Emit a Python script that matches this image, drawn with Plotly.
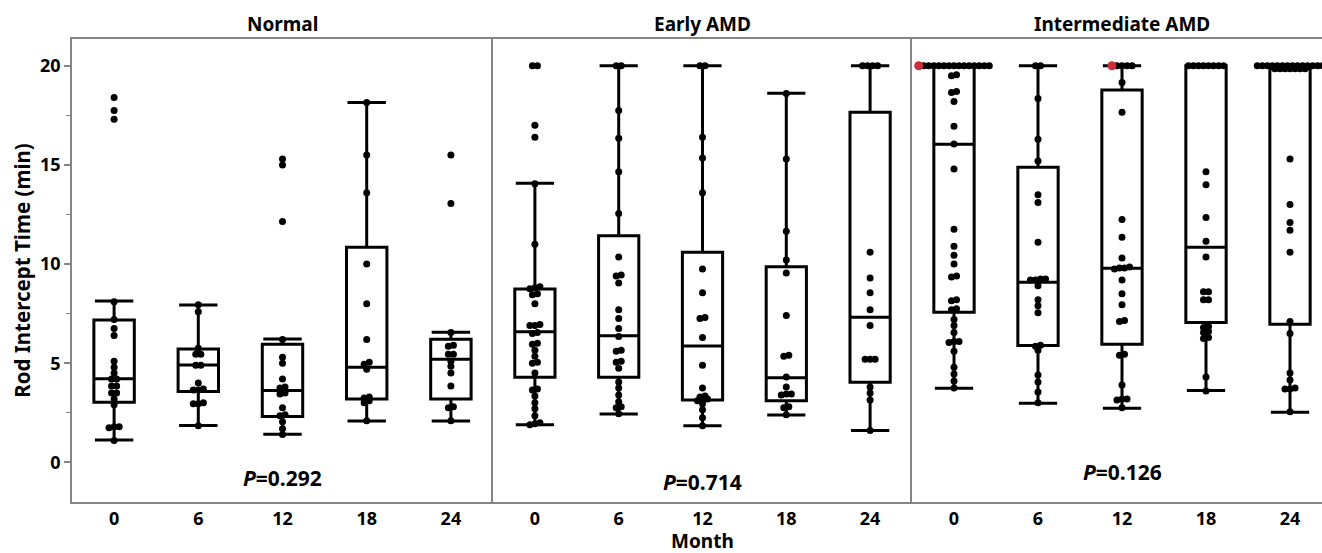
import plotly.graph_objects as go
from plotly.subplots import make_subplots

# ---------------- data ----------------
groups = ["Normal", "Early AMD", "Intermediate AMD"]
month_labels = ["0", "6", "12", "18", "24"]
p_values = ["0.292", "0.714", "0.126"]
p_label_y = [-0.78, -0.98, -0.48]

# individual values (min); per group, per month
normal_0 = [18.4, 17.75, 17.3, 8.1, 7.2, 6.75, 6.4, 5.1, 4.8, 4.5, 4.2, 4.2, 3.85, 3.85,
            3.5, 3.5, 3.2, 2.9, 1.8, 1.8, 1.75, 1.1]
normal_6 = [7.95, 7.6, 5.75, 5.45, 5.45, 4.9, 4.9, 4.0, 3.7, 3.65, 3.65, 3.0, 2.95, 2.95, 1.85]
normal_12 = [15.3, 15.0, 12.15, 6.2, 5.3, 5.0, 4.2, 3.8, 3.75, 3.5, 3.45, 2.75, 2.4, 2.35,
             2.05, 1.7, 1.4]
normal_18 = [18.15, 15.5, 13.6, 10.0, 8.0, 6.2, 5.05, 4.95, 4.7, 3.3, 3.25, 3.1, 3.0, 2.1]
normal_24 = [15.5, 13.05, 6.55, 5.9, 5.85, 5.45, 5.45, 5.1, 4.85, 4.5, 3.85, 2.8, 2.75, 2.1]

early_0 = [20, 20, 17.0, 16.4, 14.05, 11.0, 8.85, 8.8, 8.75, 8.5, 8.45, 8.0, 6.95, 6.9, 6.9,
           6.55, 6.5, 6.0, 5.95, 5.65, 5.35, 5.05, 5.0, 4.5, 3.7, 3.65, 3.35, 3.0, 2.7, 2.35,
           2.0, 1.95, 1.9]
early_6 = [20, 20, 17.75, 16.35, 14.65, 12.55, 10.35, 9.45, 9.4, 9.05, 7.7, 7.25, 6.75, 6.35,
           5.65, 5.6, 5.1, 5.05, 4.75, 4.05, 3.75, 3.4, 3.05, 2.8, 2.75, 2.45]
early_12 = [20, 20, 16.4, 15.35, 13.6, 9.75, 8.55, 7.3, 7.25, 6.3, 4.9, 3.75, 3.35, 3.3, 3.2,
            3.15, 3.1, 2.95, 2.65, 2.25, 1.85]
early_18 = [18.6, 15.3, 11.65, 10.2, 9.55, 7.4, 5.4, 5.35, 4.3, 3.8, 3.45, 3.45, 3.4, 2.8,
            2.75, 2.4]
early_24 = [20, 20, 20, 20, 10.6, 9.3, 8.55, 7.7, 6.9, 5.2, 5.2, 5.2, 3.8, 3.5, 3.15, 1.6]

inter_0 = [20] * 14 + [19.55, 19.5, 18.7, 18.65, 18.2, 16.95, 16.05, 14.8, 11.75, 10.9, 10.45,
                       10.0, 9.4, 9.35, 8.2, 8.15, 7.75, 7.7, 7.2, 6.9, 6.55, 6.1, 6.1, 6.05,
                       5.6, 4.8, 4.45, 4.1, 3.75]
inter_6 = [20, 20, 18.35, 16.3, 15.2, 13.5, 13.1, 11.1, 9.25, 9.25, 9.2, 9.2, 8.9, 8.2, 7.9,
           7.55, 5.9, 5.85, 5.65, 4.4, 4.05, 3.55, 3.0]
inter_12 = [20] * 4 + [19.15, 17.65, 12.25, 11.35, 10.3, 9.85, 9.8, 9.8, 9.75, 9.2, 8.5, 7.95,
                       7.15, 7.1, 5.45, 5.4, 3.9, 3.2, 3.2, 3.15, 2.75]
inter_18 = [20] * 8 + [14.65, 14.0, 12.35, 11.15, 10.35, 8.6, 8.6, 8.2, 8.2, 6.85, 6.8, 6.6,
                       6.55, 6.3, 6.25, 4.3, 3.6]
inter_24 = [20] * 14 + [19.85] * 7 + [15.3, 13.0, 12.1, 11.7, 10.6, 7.1, 6.5, 4.5, 4.15, 3.75,
                                      3.7, 3.7, 2.55]

# highlighted (red) observations: month index -> values
inter_red = {0: [20.0], 2: [20.0]}

# box statistics
normal_low = [1.13, 1.86, 1.42, 2.09, 2.09]
normal_q1 = [3.03, 3.57, 2.31, 3.2, 3.2]
normal_med = [4.21, 4.91, 3.62, 4.8, 5.2]
normal_q3 = [7.18, 5.72, 5.96, 10.85, 6.21]
normal_high = [8.14, 7.94, 6.22, 18.15, 6.56]

early_low = [1.89, 2.44, 1.84, 2.39, 1.6]
early_q1 = [4.29, 4.29, 3.15, 3.1, 4.04]
early_med = [6.58, 6.39, 5.87, 4.27, 7.32]
early_q3 = [8.74, 11.43, 10.59, 9.87, 17.65]
early_high = [14.07, 20.0, 20.0, 18.61, 20.0]

inter_low = [3.74, 2.98, 2.73, 3.62, 2.53]
inter_q1 = [7.57, 5.89, 5.96, 7.05, 6.96]
inter_med = [16.04, 9.08, 9.79, 10.85, 19.85]
inter_q3 = [20.0, 14.88, 18.78, 20.0, 20.0]
inter_high = [20.0, 20.0, 20.0, 20.0, 20.0]

panel_points = [
    [normal_0, normal_6, normal_12, normal_18, normal_24],
    [early_0, early_6, early_12, early_18, early_24],
    [inter_0, inter_6, inter_12, inter_18, inter_24],
]
panel_red = [{}, {}, inter_red]
panel_stats = [
    (normal_low, normal_q1, normal_med, normal_q3, normal_high),
    (early_low, early_q1, early_med, early_q3, early_high),
    (inter_low, inter_q1, inter_med, inter_q3, inter_high),
]

# ---------------- styling ----------------
FONT = "Noto Sans"
FRAME = "#858585"
DOT_STEP = 0.06     # horizontal spacing of stacked dots (category units)
ROW_TOL = 0.12      # values closer than this share a row


def swarm(values, reds):
    """Return (x_offset, y, is_red) lists: dots with (nearly) equal values side by side."""
    pts = [(v, 1) for v in reds] + [(v, 0) for v in values]
    pts.sort(key=lambda p: (p[0], -p[1]))
    rows, cur, start = [], [], None
    for v, r in pts:
        if cur and v - start > ROW_TOL:
            rows.append(cur)
            cur = []
        if not cur:
            start = v
        cur.append((v, r))
    if cur:
        rows.append(cur)
    out = []
    for row in rows:
        row.sort(key=lambda p: -p[1])  # red first -> leftmost
        n = len(row)
        for k, (v, r) in enumerate(row):
            out.append(((k - (n - 1) / 2) * DOT_STEP, v, r))
    return out


fig = make_subplots(rows=1, cols=3, shared_yaxes=True, horizontal_spacing=0)

for p in range(3):
    col = p + 1
    low, q1, med, q3, high = panel_stats[p]
    fig.add_trace(go.Box(
        x=list(range(5)), q1=q1, median=med, q3=q3, lowerfence=low, upperfence=high,
        width=0.48, whiskerwidth=0.95, fillcolor="rgba(0,0,0,0)",
        line=dict(color="black", width=3), boxpoints=False, hoverinfo="skip",
        showlegend=False), row=1, col=col)
    xs, ys, rx, ry = [], [], [], []
    for i, vals in enumerate(panel_points[p]):
        for dx, v, r in swarm(vals, panel_red[p].get(i, [])):
            if r:
                rx.append(i + dx); ry.append(v)
            else:
                xs.append(i + dx); ys.append(v)
    fig.add_trace(go.Scatter(x=xs, y=ys, mode="markers",
                             marker=dict(color="black", size=7),
                             showlegend=False, hoverinfo="skip"), row=1, col=col)
    if rx:
        fig.add_trace(go.Scatter(x=rx, y=ry, mode="markers",
                                 marker=dict(color="#c9303c", size=9),
                                 showlegend=False, hoverinfo="skip"), row=1, col=col)

W, H = 1322, 553
ML, MR, MT, MB = 72, 0, 39, 51
plot_w = W - ML - MR
doms = [(0, 421 / plot_w), (421 / plot_w, 840 / plot_w), (840 / plot_w, 1.0)]
px_per_unit = 84.0
ranges = [[-0.5, 4.5], [-0.5, 4.5], [-0.5, -0.5 + (plot_w - 840) / px_per_unit]]

TICKFONT = dict(family=FONT, size=18, color="black", weight="bold")
for p in range(3):
    ax = "xaxis" if p == 0 else f"xaxis{p + 1}"
    fig.layout[ax].update(
        domain=list(doms[p]), range=ranges[p], tickvals=list(range(5)), ticktext=month_labels,
        showline=True, linecolor=FRAME, linewidth=1.5, mirror=True, ticks="",
        showgrid=False, zeroline=False, automargin=False, tickfont=TICKFONT)
    yax = "yaxis" if p == 0 else f"yaxis{p + 1}"
    fig.layout[yax].update(
        range=[-2.0, 21.35], showline=True, linecolor=FRAME, linewidth=1.5,
        mirror=False, showgrid=False, zeroline=False, automargin=False)

fig.update_layout(yaxis=dict(
    tickvals=[0, 5, 10, 15, 20], ticks="outside", ticklen=6, tickwidth=1.5, tickcolor=FRAME,
    tickfont=TICKFONT,
    minor=dict(ticks="outside", ticklen=4, tickwidth=1.2, tickcolor=FRAME, dtick=2.5, tick0=0),
    title=dict(text="Rod Intercept Time (min)", standoff=4,
               font=dict(family=FONT, size=20.5, color="black", weight="bold"))))
fig.update_layout(yaxis2=dict(ticks="", showticklabels=False),
                  yaxis3=dict(ticks="", showticklabels=False))

plot_h = H - MT - MB
annotations = []
for p, name in enumerate(groups):
    xr = "x" if p == 0 else f"x{p + 1}"
    yr = "y" if p == 0 else f"y{p + 1}"
    annotations.append(dict(text=name, x=2, xref=xr, y=1 + 15 / plot_h, yref="paper",
                            showarrow=False, yanchor="middle",
                            font=dict(family=FONT, size=19, color="black", weight="bold")))
    annotations.append(dict(text=f"<i>P</i>=" + p_values[p], x=2, xref=xr, y=p_label_y[p], yref=yr,
                            showarrow=False, yanchor="middle",
                            font=dict(family=FONT, size=21, color="black", weight="bold")))
annotations.append(dict(text="Month", x=(702 - ML) / plot_w, xref="paper",
                        y=-(541 - (H - MB)) / plot_h, yref="paper", showarrow=False,
                        yanchor="middle",
                        font=dict(family=FONT, size=19, color="black", weight="bold")))

fig.update_layout(
    width=W, height=H, margin=dict(l=ML, r=MR, t=MT, b=MB, autoexpand=False),
    paper_bgcolor="white", plot_bgcolor="white", showlegend=False,
    annotations=annotations, font=dict(family=FONT, color="black"))

fig.write_html("out.html", config={"displayModeBar": False},
               post_script="document.body.style.margin='0';document.body.style.overflow='hidden';")
